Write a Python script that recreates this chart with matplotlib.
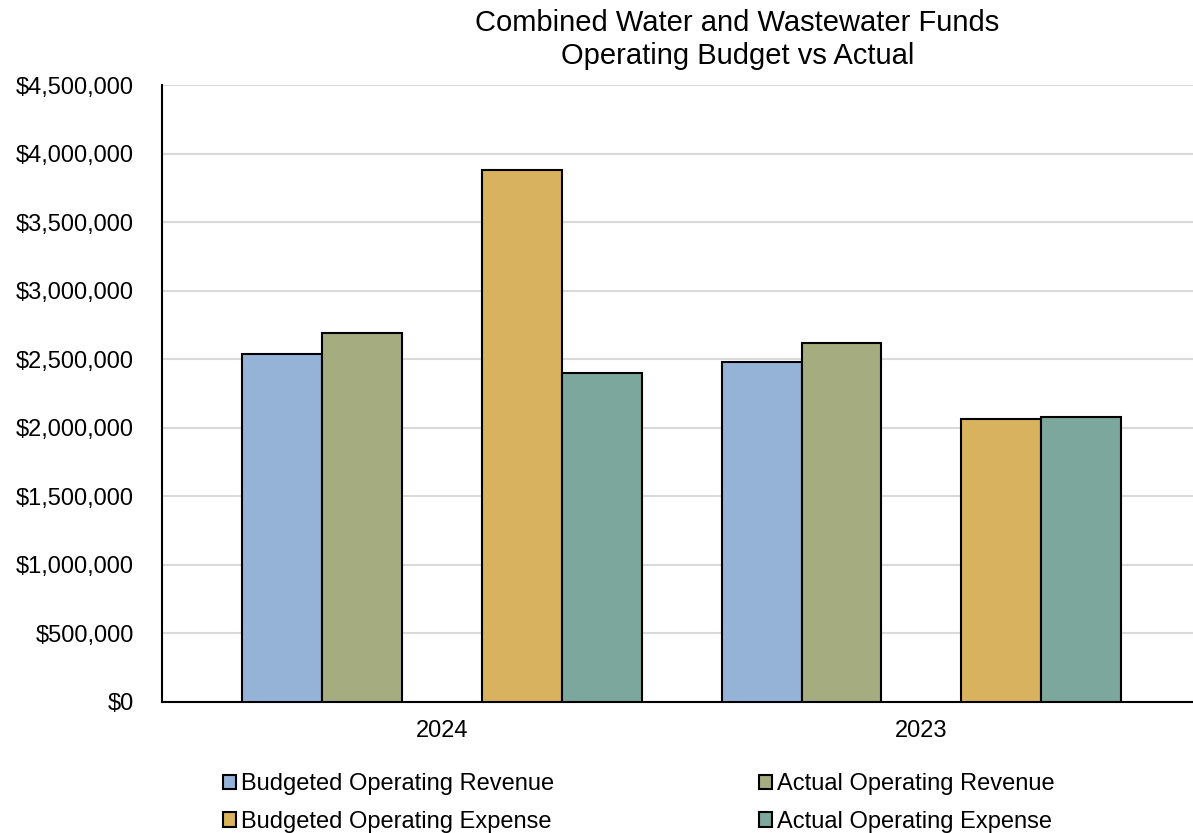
import numpy as np
import matplotlib.pyplot as plt
from matplotlib.ticker import FuncFormatter
from matplotlib.patches import Patch

plt.rcParams['font.family'] = ['Liberation Sans', 'DejaVu Sans']

years = ['2024', '2023']
budget_rev = [2538000, 2478000]
actual_rev = [2694000, 2617000]
budget_exp = [3883000, 2069000]
actual_exp = [2400000, 2080000]

names = ['Budgeted Operating Revenue', 'Actual Operating Revenue',
         'Budgeted Operating Expense', 'Actual Operating Expense']
colors = ['#95B3D7', '#A4AC80', '#D8B25E', '#7BA79C']

fig = plt.figure(figsize=(11.93, 8.33), dpi=100)
ax = fig.add_axes([0.1358, 0.1573, 0.8642, 0.7401])

x = np.arange(len(years))
w = 1 / 6
# an empty slot sits between the revenue pair and the expense pair
slots = [-2, -1, 1, 2]
for vals, off, c in zip([budget_rev, actual_rev, budget_exp, actual_exp], slots, colors):
    ax.bar(x + off * w, vals, width=w, color=c, edgecolor='black', linewidth=1.5, zorder=3)

ax.set_xlim(-0.583, 1.566)
ax.set_ylim(0, 4500000)
ax.set_yticks(np.arange(0, 4500001, 500000))
ax.yaxis.set_major_formatter(FuncFormatter(lambda v, p: f'${v:,.0f}'))
ax.set_xticks(x)
ax.set_xticklabels(years)
ax.tick_params(axis='y', length=0, pad=20, labelsize=17)
ax.tick_params(axis='x', length=0, pad=13, labelsize=17)
ax.grid(axis='y', color='#d9d9d9', linewidth=1.5, zorder=0)
for s in ['top', 'right']:
    ax.spines[s].set_visible(False)
ax.spines['left'].set_linewidth(1.5)
ax.spines['bottom'].set_linewidth(1.5)

fig.text(0.618, 0.9725, 'Combined Water and Wastewater Funds', ha='center', va='center', fontsize=21)
fig.text(0.618, 0.933, 'Operating Budget vs Actual', ha='center', va='center', fontsize=21)

handles = [Patch(facecolor=c, edgecolor='black', linewidth=1.5) for c in colors]
order = [0, 2, 1, 3]
fig.legend([handles[i] for i in order], [names[i] for i in order], ncol=2,
           loc='center left', bbox_to_anchor=(0.169, 0.036), frameon=False,
           fontsize=17, handlelength=0.55, handleheight=0.55, handletextpad=0.2,
           columnspacing=8.7, labelspacing=0.67)

fig.savefig('out.png', dpi=100)
